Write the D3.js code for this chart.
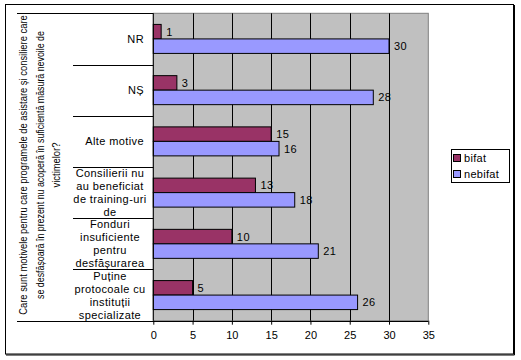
<!DOCTYPE html>
<html><head><meta charset="utf-8">
<script src="https://cdn.jsdelivr.net/npm/d3@7/dist/d3.min.js"></script>
<style>body{margin:0;background:#fff}text{font-family:"Liberation Sans",Arial,sans-serif}</style>
</head><body><svg id="c" width="521" height="360"></svg>
<script>
const categories = ["NR", "NȘ", "Alte motive",
  "Consilierii nu\nau beneficiat\nde training-uri\nde",
  "Fonduri\ninsuficiente\npentru\ndesfășurarea",
  "Puține\nprotocoale cu\ninstituții\nspecializate"];
const seriesNames = ["bifat", "nebifat"];
const bifat = [1, 3, 15, 13, 10, 5];
const nebifat = [30, 28, 16, 18, 21, 26];
const xTicks = [0, 5, 10, 15, 20, 25, 30, 35];
const titleLines = ["Care sunt motivele pentru care programele de asistare și consiliere care",
  "se desfășoară în prezent nu acoperă în suficientă măsură nevoile de",
  "victimelor?"];
const colors = ["#993366", "#9999FF"];

const svg = d3.select("#c");
const L = 153.3, R = 428.3, T = 13.3, B = 320.7;
const x = d3.scaleLinear().domain([0, 35]).range([L, R]);
const y = d3.scaleBand().domain(categories).range([T, B]).padding(0);
const barH = y.bandwidth() * 0.283;

// outer frame
svg.append("rect").attr("x", 5.5).attr("y", 4.5).attr("width", 508).attr("height", 349.5)
  .attr("fill", "#fff").attr("stroke", "#000");
svg.append("path").attr("d", `M514.5,5V355M6,355H514.5`).attr("stroke", "#000").attr("fill", "none");

// plot background
svg.append("rect").attr("x", L).attr("y", T).attr("width", R - L).attr("height", B - T)
  .attr("fill", "#C0C0C0").attr("stroke", "#808080");

// gridlines
svg.append("g").selectAll("line").data(xTicks.filter(d => d > 0 && d < 35)).join("line")
  .attr("x1", d => Math.round(x(d)) + 0.5).attr("x2", d => Math.round(x(d)) + 0.5)
  .attr("y1", T).attr("y2", B).attr("stroke", "#000");

// bars
const data = categories.map((c, i) => ({c, vals: [bifat[i], nebifat[i]]}));
const g = svg.append("g");
data.forEach(d => {
  const cy = y(d.c) + y.bandwidth() / 2;
  d.vals.forEach((v, s) => {
    const y0 = cy - barH + s * barH;
    g.append("rect").attr("x", x(0)).attr("y", y0).attr("width", x(v) - x(0)).attr("height", barH)
      .attr("fill", colors[s]).attr("stroke", "#000").attr("stroke-width", 1);
    g.append("text").attr("x", x(v) + 5).attr("y", y0 + barH / 2).attr("dy", "0.36em")
      .attr("font-size", 11).attr("letter-spacing", "0.4px").text(v);
  });
});

// x axis
const xa = svg.append("g").attr("transform", `translate(0,${B})`)
  .call(d3.axisBottom(x).tickValues(xTicks).tickSize(4).tickPadding(7));
xa.select(".domain").remove();
xa.selectAll("line").attr("stroke", "#000");
xa.selectAll("text").attr("font-size", 11).attr("font-family", "Liberation Sans, Arial").attr("fill", "#000");
svg.append("line").attr("x1", 17).attr("x2", R).attr("y1", Math.round(B) + 0.5).attr("y2", Math.round(B) + 0.5).attr("stroke", "#000");

// y axis line & category separators
svg.append("line").attr("x1", L).attr("x2", L).attr("y1", T).attr("y2", B).attr("stroke", "#000");
svg.append("line").attr("x1", 17).attr("x2", L).attr("y1", Math.round(T) + 0.5).attr("y2", Math.round(T) + 0.5).attr("stroke", "#000");
svg.append("g").selectAll("line").data(categories.slice(1)).join("line")
  .attr("x1", 73).attr("x2", L).attr("y1", d => Math.round(y(d)) + 0.5).attr("y2", d => Math.round(y(d)) + 0.5)
  .attr("stroke", "#000");

// category labels
const lab = svg.append("g");
categories.forEach(c => {
  const lines = c.split("\n");
  const cy = y(c) + y.bandwidth() / 2;
  const multi = lines.length > 1;
  lines.forEach((ln, i) => {
    lab.append("text").attr("x", multi ? 110 : 144).attr("text-anchor", multi ? "middle" : "end")
      .attr("y", cy + (i - (lines.length - 1) / 2) * 13).attr("dy", "0.36em")
      .attr("font-size", 11).attr("letter-spacing", "0.4px").text(ln);
  });
});

// rotated title (horizontally condensed like the original)
const tl = [300, 268, 45];
const tx = [27, 44, 60];
titleLines.forEach((t, i) => {
  const el = svg.append("text").attr("text-anchor", "middle").attr("font-size", 11).text(t);
  const w = el.node().getComputedTextLength();
  const s = tl[i] / w;
  el.attr("transform", `translate(${tx[i]},165) rotate(-90) scale(${s},1)`);
});

// legend
const lg = svg.append("g");
lg.append("rect").attr("x", 451.5).attr("y", 149.5).attr("width", 58).attr("height", 33)
  .attr("fill", "#fff").attr("stroke", "#000");
seriesNames.forEach((n, i) => {
  const yy = 158 + i * 16;
  lg.append("rect").attr("x", 453.5).attr("y", yy - 3.5).attr("width", 7).attr("height", 7)
    .attr("fill", colors[i]).attr("stroke", "#000");
  lg.append("text").attr("x", 464).attr("y", yy).attr("dy", "0.36em").attr("font-size", 11)
    .attr("letter-spacing", "0.3px").text(n);
});
</script></body></html>
